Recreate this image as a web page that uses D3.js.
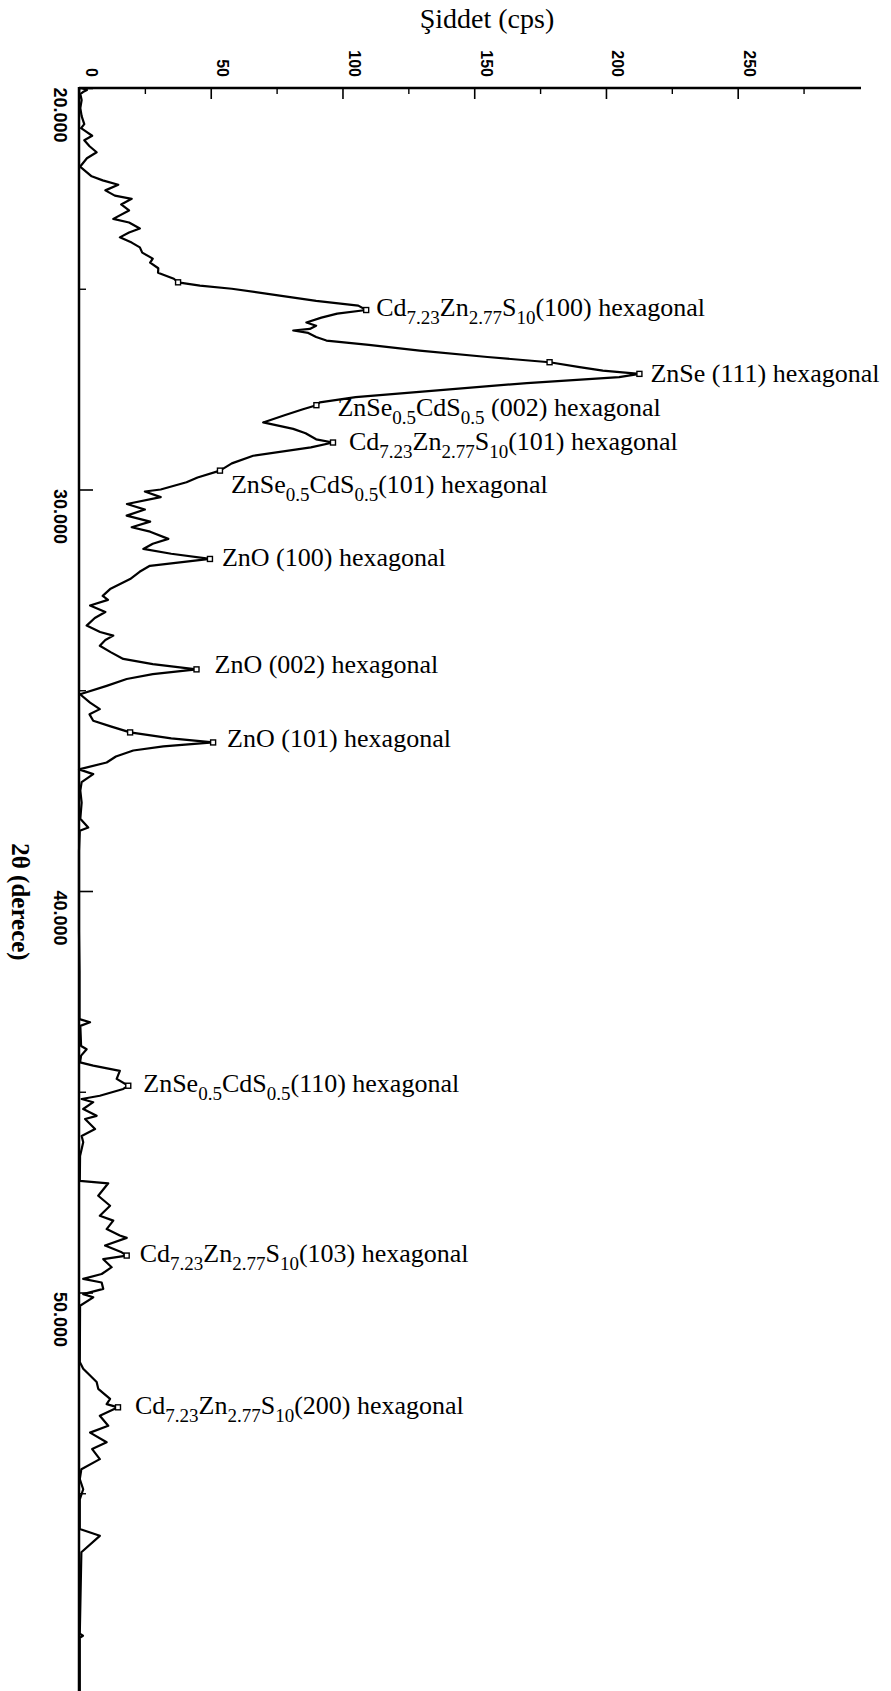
<!DOCTYPE html>
<html>
<head>
<meta charset="utf-8">
<script src="https://cdn.jsdelivr.net/npm/d3@7"></script>
<style>
  html, body { margin: 0; padding: 0; background: #fff; }
  svg { display: block; }
</style>
</head>
<body>
<div id="chart"></div>
<script>
// ---------------- DATA ----------------
// 2θ (degrees) of the sampled trace points
const twoTheta = [
  20.00, 20.05, 20.10, 20.15, 20.30, 20.50, 20.70, 20.90, 21.00, 21.10,
  21.19, 21.30, 21.45, 21.60, 21.75, 21.96, 22.10, 22.20, 22.30, 22.41,
  22.55, 22.68, 22.76, 22.90, 23.05, 23.26, 23.35, 23.50, 23.60, 23.72,
  23.85, 23.97, 24.10, 24.25, 24.35, 24.49, 24.60, 24.75, 24.84, 24.92,
  25.00, 25.17, 25.30, 25.42, 25.53, 25.62, 25.72, 25.84, 25.92, 26.00,
  26.04, 26.10, 26.20, 26.29, 26.40, 26.54, 26.70, 26.83, 26.95, 27.04,
  27.12, 27.20, 27.35, 27.50, 27.70, 27.83, 27.90, 28.00, 28.15, 28.33,
  28.49, 28.60, 28.75, 28.83, 28.95, 29.16, 29.35, 29.53, 29.70, 29.82,
  30.00, 30.05, 30.19, 30.36, 30.50, 30.65, 30.80, 30.94, 31.05, 31.23,
  31.35, 31.48, 31.60, 31.73, 31.90, 32.05, 32.23, 32.48, 32.65, 32.75,
  32.89, 33.05, 33.20, 33.39, 33.55, 33.64, 33.75, 33.89, 34.05, 34.22,
  34.35, 34.48, 34.60, 34.72, 34.89, 35.10, 35.31, 35.47, 35.60, 35.76,
  35.90, 36.05, 36.20, 36.30, 36.40, 36.50, 36.65, 36.80, 36.97, 37.09,
  37.29, 37.50, 37.80, 38.20, 38.42, 38.50, 39.00, 40.00, 41.00, 42.00,
  43.19, 43.27, 43.36, 43.86, 43.94, 44.10, 44.27, 44.35, 44.48, 44.68,
  44.85, 44.93, 45.10, 45.18, 45.26, 45.43, 45.60, 45.68, 45.93, 46.10,
  46.26, 46.60, 47.22, 47.28, 47.59, 47.84, 48.09, 48.21, 48.42, 48.58,
  48.64, 48.83, 49.00, 49.08, 49.17, 49.37, 49.54, 49.66, 49.75, 49.91,
  50.04, 50.12, 50.33, 51.73, 51.90, 52.23, 52.40, 52.65, 52.78, 52.86,
  53.07, 53.32, 53.49, 53.73, 53.90, 54.15, 54.40, 54.65, 54.90, 55.15,
  55.89, 56.06, 56.47, 58.50, 58.55, 58.60, 60.00
];
// intensity (cps) at each 2θ above
const intensity = [
  1.0, 3.0, 1.5, 0.5, 1.0, 0.5, 1.0, 2.0, 0.8, 3.0,
  5.0, 2.0, 4.0, 6.7, 3.0, 0.4, 3.0, 4.8, 9.0, 14.9,
  10.0, 13.6, 20.0, 16.0, 19.0, 13.0, 19.0, 23.1, 19.0, 15.5,
  20.0, 23.1, 24.0, 28.0, 27.0, 30.1, 30.0, 36.0, 37.6, 45.9,
  58.0, 76.2, 90.0, 106.0, 109.0, 98.0, 92.0, 86.3, 90.0, 87.6,
  81.3, 87.0, 90.0, 93.9, 110.0, 129.3, 155.0, 178.6, 190.0, 198.8,
  212.7, 205.0, 170.0, 141.8, 105.0, 91.4, 90.1, 85.0, 78.0, 69.9,
  81.3, 86.0, 90.0, 96.4, 88.0, 66.1, 58.0, 53.5, 45.0, 40.8,
  31.0, 25.0, 31.0, 18.2, 25.0, 18.1, 27.0, 20.0, 27.0, 33.9,
  28.0, 24.4, 35.0, 49.7, 26.9, 23.0, 19.4, 11.8, 9.0, 11.0,
  4.2, 10.0, 6.0, 2.9, 8.0, 13.0, 10.0, 7.9, 12.0, 16.8,
  28.0, 44.6, 28.0, 18.1, 10.5, 0.4, 4.2, 7.9, 4.0, 5.4,
  12.0, 19.4, 35.0, 50.9, 32.0, 20.6, 14.0, 10.5, 0.0, 5.4,
  1.0, 0.5, 1.0, 0.5, 3.5, 0.3, 0.0, 0.0, 0.0, 0.2,
  0.2, 4.2, 0.5, 0.8, 2.9, 0.8, 0.4, 5.4, 15.5, 14.3,
  18.7, 16.8, 7.9, 1.0, 5.4, 1.6, 6.7, 2.3, 6.1, 1.0,
  1.6, 0.4, 0.3, 11.1, 7.3, 11.8, 7.9, 13.0, 10.5, 15.5,
  18.1, 9.9, 16.2, 18.1, 9.2, 12.4, 8.6, 1.6, 8.6, 9.2,
  1.6, 5.4, 0.4, 0.3, 1.6, 6.7, 7.3, 11.8, 10.5, 14.8,
  7.9, 11.1, 4.2, 10.5, 5.0, 7.9, 0.9, 0.3, 1.6, 0.3,
  0.3, 7.9, 0.9, 0.3, 1.5, 0.3, 0.3
];

// labelled peaks
const peakTheta  = [25.53, 27.12, 27.90, 28.83, 29.53, 31.73, 34.48, 36.30, 44.85, 49.08, 52.86];
const peakCounts = [109.0, 212.7, 90.1, 96.4, 53.5, 49.7, 44.6, 50.9, 18.7, 18.1, 14.8];
const peakLabels = [
  "Cd_{7.23}Zn_{2.77}S_{10}(100) hexagonal",
  "ZnSe (111) hexagonal",
  "ZnSe_{0.5}CdS_{0.5} (002) hexagonal",
  "Cd_{7.23}Zn_{2.77}S_{10}(101) hexagonal",
  "ZnSe_{0.5}CdS_{0.5}(101) hexagonal",
  "ZnO (100) hexagonal",
  "ZnO (002) hexagonal",
  "ZnO (101) hexagonal",
  "ZnSe_{0.5}CdS_{0.5}(110) hexagonal",
  "Cd_{7.23}Zn_{2.77}S_{10}(103) hexagonal",
  "Cd_{7.23}Zn_{2.77}S_{10}(200) hexagonal"
];

// additional unlabelled search-match markers on the trace
const extraTheta  = [24.84, 26.83, 36.05];
const extraCounts = [37.6, 178.6, 19.4];

// axis ticks
const countTicks      = [0, 50, 100, 150, 200, 250];
const countMinorTicks = [25, 75, 125, 175, 225, 275];
const thetaTicks      = [20, 30, 40, 50];
const thetaMinorTicks = [25, 35, 45, 55];

const countTitle = "Şiddet (cps)";
const thetaTitle = "2θ (derece)";

// ---------------- LAYOUT ----------------
const W = 891, H = 1691;
const mLeft = 79, mTop = 88, mRight = 861;
// per-label nudges (px) relative to marker
const labelDx = [10, 11, 21, 16, 11, 12, 18, 14, 15, 13, 17];
const labelDy = [6, 8, 11, 7, 22, 7, 4, 5, 6, 6, 7];
const FS = 26, SUB = 19, SUBSHIFT = 8;

const svg = d3.select("#chart").append("svg")
  .attr("width", W).attr("height", H)
  .attr("viewBox", `0 0 ${W} ${H}`);
svg.append("rect").attr("width", W).attr("height", H).attr("fill", "#fff");

const x = d3.scaleLinear().domain([0, 296.8]).range([mLeft, mRight]);
const y = d3.scaleLinear().domain([20, 60]).range([mTop, mTop + 40 * 40.15]);

// ---- trace ----
const pts = twoTheta.map((t, i) => [t, intensity[i]]);
svg.append("path")
  .datum(pts)
  .attr("fill", "none")
  .attr("stroke", "#000")
  .attr("stroke-width", 2.2)
  .attr("stroke-linejoin", "round")
  .attr("d", d3.line().x(d => x(d[1])).y(d => y(d[0])));

// ---- axes ----
const tickFont = "'Liberation Sans', Arial, sans-serif";
const topAxis = d3.axisTop(x).tickValues(countTicks).tickSize(-11).tickPadding(0).tickFormat(d3.format("d"));
const gTop = svg.append("g").attr("transform", `translate(0,${mTop})`).call(topAxis);
gTop.select(".domain").remove();
gTop.selectAll(".tick line").attr("stroke", "#000").attr("stroke-width", 1.6);
gTop.selectAll(".tick text")
  .attr("fill", "#000")
  .attr("font-family", tickFont)
  .attr("font-weight", "bold")
  .attr("font-size", 16)
  .attr("y", null).attr("dy", null)
  .attr("text-anchor", "end")
  .attr("transform", "translate(6,-11) rotate(90)");
const topMinor = d3.axisTop(x).tickValues(countMinorTicks).tickSize(-6).tickFormat("");
const gTopMinor = svg.append("g").attr("transform", `translate(0,${mTop})`).call(topMinor);
gTopMinor.select(".domain").remove();
gTopMinor.selectAll(".tick line").attr("stroke", "#000").attr("stroke-width", 1.4);

const leftAxis = d3.axisLeft(y).tickValues(thetaTicks).tickSize(-14).tickPadding(0).tickFormat(d3.format(".3f"));
const gLeft = svg.append("g").attr("transform", `translate(${mLeft},0)`).call(leftAxis);
gLeft.select(".domain").remove();
gLeft.selectAll(".tick line").attr("stroke", "#000").attr("stroke-width", 1.6);
gLeft.selectAll(".tick text")
  .attr("fill", "#000")
  .attr("font-family", tickFont)
  .attr("font-weight", "bold")
  .attr("font-size", 18)
  .attr("x", null).attr("dy", null)
  .attr("text-anchor", "start")
  .attr("transform", "translate(-25,-1) rotate(90)");
const leftMinor = d3.axisLeft(y).tickValues(thetaMinorTicks).tickSize(-7).tickFormat("");
const gLeftMinor = svg.append("g").attr("transform", `translate(${mLeft},0)`).call(leftMinor);
gLeftMinor.select(".domain").remove();
gLeftMinor.selectAll(".tick line").attr("stroke", "#000").attr("stroke-width", 1.4);

// axis lines (frame: top and left)
svg.append("line").attr("x1", mLeft).attr("x2", mRight).attr("y1", mTop).attr("y2", mTop)
  .attr("stroke", "#000").attr("stroke-width", 2.5);
svg.append("line").attr("x1", mLeft).attr("x2", mLeft).attr("y1", mTop - 1).attr("y2", H)
  .attr("stroke", "#000").attr("stroke-width", 2.5);

// ---- titles ----
svg.append("text")
  .attr("x", 487).attr("y", 28)
  .attr("text-anchor", "middle")
  .attr("font-family", "'Liberation Serif', 'Times New Roman', serif")
  .attr("font-size", 28)
  .attr("fill", "#000")
  .text(countTitle);

svg.append("text")
  .attr("transform", `translate(12,${902}) rotate(90)`)
  .attr("text-anchor", "middle")
  .attr("font-family", "'Liberation Serif', 'Times New Roman', serif")
  .attr("font-weight", "bold")
  .attr("font-size", 25)
  .attr("fill", "#000")
  .text(thetaTitle);

// ---- markers ----
svg.selectAll("rect.pk")
  .data(peakTheta.map((t, i) => [t, peakCounts[i]]))
  .join("rect")
  .attr("class", "pk")
  .attr("x", d => x(d[1]) - 2.5).attr("y", d => y(d[0]) - 2.5)
  .attr("width", 5).attr("height", 5)
  .attr("fill", "#fff").attr("stroke", "#000").attr("stroke-width", 1.4);
svg.selectAll("rect.ex")
  .data(extraTheta.map((t, i) => [t, extraCounts[i]]))
  .join("rect")
  .attr("class", "ex")
  .attr("x", d => x(d[1]) - 2.5).attr("y", d => y(d[0]) - 2.5)
  .attr("width", 5).attr("height", 5)
  .attr("fill", "#fff").attr("stroke", "#000").attr("stroke-width", 1.4);

// ---- peak labels with subscripts ----
function addRich(sel, str) {
  const parts = str.split(/(_\{[^}]*\})/).filter(s => s.length);
  let lowered = false;
  parts.forEach(p => {
    if (p.startsWith("_{")) {
      sel.append("tspan").attr("font-size", SUB).attr("dy", lowered ? 0 : SUBSHIFT).text(p.slice(2, -1));
      lowered = true;
    } else {
      sel.append("tspan").attr("font-size", FS).attr("dy", lowered ? -SUBSHIFT : 0).text(p);
      lowered = false;
    }
  });
}
peakLabels.forEach((lab, i) => {
  const t = svg.append("text")
    .attr("x", x(peakCounts[i]) + labelDx[i])
    .attr("y", y(peakTheta[i]) + labelDy[i])
    .attr("font-family", "'Liberation Serif', 'Times New Roman', serif")
    .attr("font-size", FS)
    .attr("fill", "#000");
  addRich(t, lab);
});
</script>
</body>
</html>
